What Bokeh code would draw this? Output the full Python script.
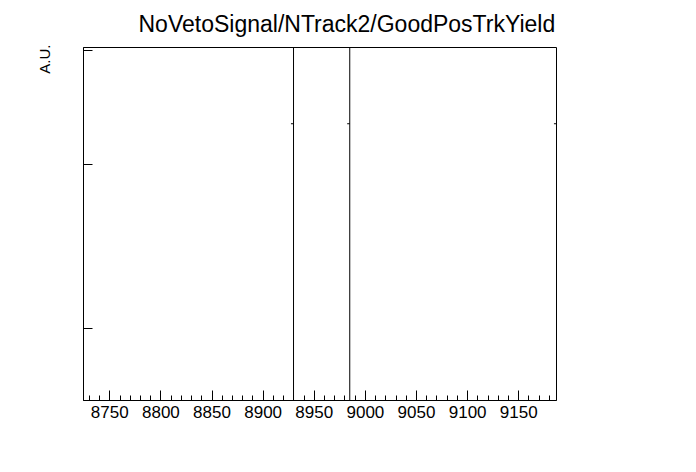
from bokeh.plotting import figure
from bokeh.models import Range1d, FixedTicker, Title
from bokeh.embed import file_html
from bokeh.resources import INLINE

# ---- data ----
title_text = "NoVetoSignal/NTrack2/GoodPosTrkYield"
y_label = "A.U."
x_min, x_max = 8724.3, 9186.9
y_min, y_max = 0.0, 1.0
x_major = [8750, 8800, 8850, 8900, 8950, 9000, 9050, 9100, 9150]
x_minor = [8730 + 10 * i for i in range(46)]
y_major = [0.203, 0.669, 0.991]
bin_edges = [8929.7, 8984.7]        # edges of the overflowing bin
bin_top = 1.2                       # bin content above frame
mark_level = 0.784                  # small level marks
mark_x = [8929.7, 8984.7, 9186.9]
mark_len = 2.5

FONT = "Liberation Sans"

p = figure(width=696, height=472, output_backend="svg", toolbar_location=None,
           x_range=Range1d(x_min, x_max), y_range=Range1d(y_min, y_max),
           min_border_left=83, min_border_right=140, min_border_top=47,
           min_border_bottom=72)
p.xgrid.visible = False
p.ygrid.visible = False
p.outline_line_color = "black"
p.outline_line_width = 1
p.background_fill_color = "white"
p.border_fill_color = "white"

p.title.text = title_text
p.title.align = "left"
p.title.offset = 55
p.title.text_font = FONT
p.title.text_font_size = "23px"
p.title.text_font_style = "normal"
p.title.text_color = "black"
p.title.vertical_align = "top"
p.title.standoff = 18

xa = p.xaxis[0]
xa.ticker = FixedTicker(ticks=x_major, minor_ticks=x_minor)
xa.major_tick_in = 10
xa.major_tick_out = 0
xa.minor_tick_in = 5
xa.minor_tick_out = 0
xa.major_tick_line_color = "black"
xa.minor_tick_line_color = "black"
xa.axis_line_color = "black"
xa.major_label_text_font = FONT
xa.major_label_text_font_size = "17px"
xa.major_label_text_color = "black"
xa.major_label_standoff = 5

ya = p.yaxis[0]
ya.ticker = FixedTicker(ticks=y_major, minor_ticks=[])
ya.major_tick_in = 9
ya.major_tick_out = 0
ya.minor_tick_in = 0
ya.minor_tick_out = 0
ya.major_tick_line_color = "black"
ya.axis_line_color = "black"
ya.major_label_text_font_size = "0px"
ya.major_label_standoff = 0

# vertical histogram edges
p.segment(x0=bin_edges, y0=[y_min] * len(bin_edges), x1=bin_edges,
          y1=[bin_top] * len(bin_edges), line_color="black", line_width=1)
# small level marks
p.segment(x0=[m - mark_len for m in mark_x], y0=[mark_level] * len(mark_x),
          x1=mark_x, y1=[mark_level] * len(mark_x), line_color="black", line_width=1)

p.add_layout(Title(text=y_label, align="right", offset=-3, text_font=FONT,
                   text_font_size="15px", text_font_style="normal",
                   text_color="black", standoff=62), "left")

open("out.html", "w").write(file_html(p, INLINE))
